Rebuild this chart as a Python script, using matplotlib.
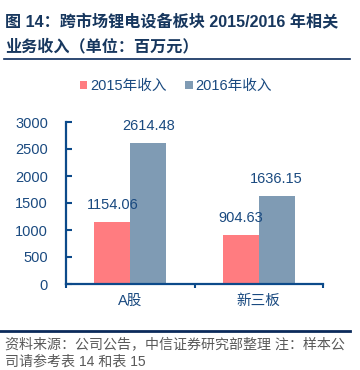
import matplotlib.pyplot as plt
import numpy as np

plt.rcParams['font.family'] = ['Liberation Sans', 'Noto Sans CJK SC']

# data
categories = ['A股', '新三板']
series_names = ['2015年收入', '2016年收入']
rev_2015 = [1154.06, 904.63]
rev_2016 = [2614.48, 1636.15]
yticks = [0, 500, 1000, 1500, 2000, 2500, 3000]

title_lines = ['图 14：跨市场锂电设备板块 2015/2016 年相关', '业务收入（单位：百万元）']
footer_lines = ['资料来源：公司公告，中信证券研究部整理 注：样本公', '司请参考表 14 和表 15']

red = '#FF7C80'
gray = '#7F9BB4'
navy = '#0C4A8A'
text_blue = '#1A4A80'
title_col = '#17375E'

W, H = 360, 370
fig = plt.figure(figsize=(W / 100, H / 100), dpi=100)

def fx(px):
    return px / W

def fy(py):
    return 1 - py / H

ax = fig.add_axes([fx(66), fy(284), fx(323) - fx(66), fy(122) - fy(284)])

x = np.arange(len(categories))
bw = 0.28
b1 = ax.bar(x - bw / 2, rev_2015, bw, color=red, label=series_names[0])
b2 = ax.bar(x + bw / 2, rev_2016, bw, color=gray, label=series_names[1])

for bars, vals in [(b1, rev_2015), (b2, rev_2016)]:
    for b, v in zip(bars, vals):
        ax.annotate(f'{v:.2f}', (b.get_x() + b.get_width() / 2, v),
                    xytext=(0, 12), textcoords='offset points',
                    ha='center', va='center', fontsize=10.5, color=text_blue)

ax.set_xlim(-0.5, len(categories) - 0.5)
ax.set_ylim(0, 3000)
ax.set_yticks(yticks)
ax.set_xticks(x)
ax.set_xticklabels(categories)
ax.set_xticks(np.arange(len(categories) + 1) - 0.5, minor=True)

for s in ['top', 'right']:
    ax.spines[s].set_visible(False)
for s in ['left', 'bottom']:
    ax.spines[s].set_color(navy)
    ax.spines[s].set_linewidth(1.6)

ax.tick_params(axis='y', direction='in', length=4, width=1.5, color=navy,
               labelsize=10.5, labelcolor=text_blue, pad=13)
ax.tick_params(axis='x', which='major', length=0, labelsize=10.5,
               labelcolor=text_blue, pad=7)
ax.tick_params(axis='x', which='minor', direction='out', length=3, width=1.5, color=navy)

fig.legend(handles=[b1, b2], loc='center', bbox_to_anchor=(fx(176), fy(86)),
           ncol=2, frameon=False, fontsize=10.5, labelcolor=text_blue,
           handlelength=0.5, handleheight=0.5, handletextpad=0.2,
           columnspacing=1.3)

# title
fig.text(fx(5), fy(22), title_lines[0], fontsize=11.6, fontweight='bold',
         color=title_col, ha='left', va='center')
fig.text(fx(5), fy(46), title_lines[1], fontsize=11.6, fontweight='bold',
         color=title_col, ha='left', va='center')
fig.add_artist(plt.Line2D([fx(4), fx(350)], [fy(59), fy(59)], color='#0B2A5B', lw=1.2))

# footer
fig.add_artist(plt.Line2D([fx(0), fx(350)], [fy(331), fy(331)], color='#0B2A5B', lw=2))
fig.text(fx(5), fy(345), footer_lines[0], fontsize=10.1, color='#595959',
         ha='left', va='center')
fig.text(fx(5), fy(362), footer_lines[1], fontsize=10.1, color='#595959',
         ha='left', va='center')

fig.savefig('out.png', dpi=100)
